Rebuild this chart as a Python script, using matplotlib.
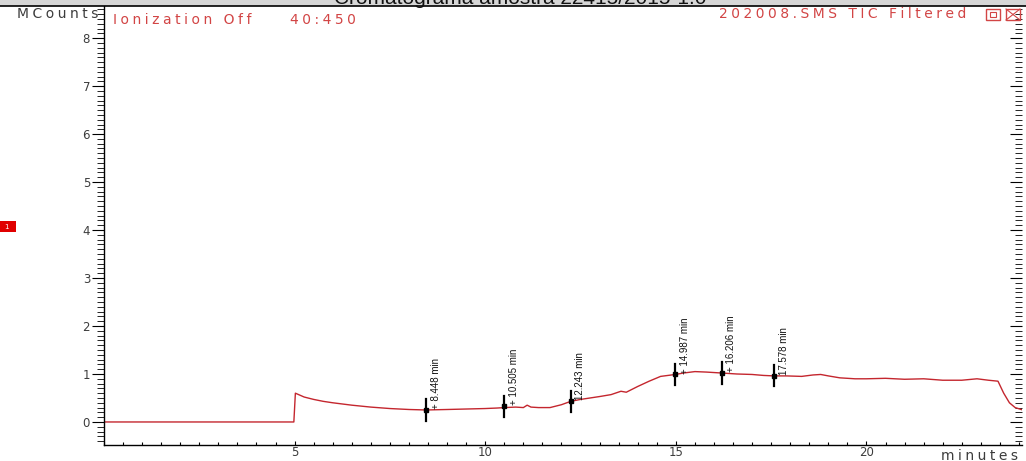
import numpy as np
import matplotlib
matplotlib.use('Agg')
from matplotlib import pyplot as plt
from matplotlib.patches import Rectangle
from matplotlib.ticker import MultipleLocator

# Chromatogram trace (minutes, MCounts)
time_min = [0.0, 4.98, 5.0, 5.02, 5.25, 5.5, 5.75, 6.0, 6.5, 7.0, 7.5, 8.0, 8.448,
            9.0, 9.5, 10.0, 10.3, 10.505, 10.8, 11.0, 11.1, 11.2, 11.4, 11.7, 12.0,
            12.243, 12.5, 13.0, 13.3, 13.56, 13.7, 14.0, 14.3, 14.6, 14.987, 15.2,
            15.5, 15.8, 16.206, 16.6, 17.0, 17.3, 17.578, 17.9, 18.3, 18.6, 18.8,
            19.0, 19.3, 19.7, 20.0, 20.5, 21.0, 21.5, 22.0, 22.5, 22.9, 23.2, 23.45,
            23.6, 23.75, 23.9, 24.1]
counts = [0.0, 0.0, 0.3, 0.6, 0.52, 0.47, 0.43, 0.40, 0.35, 0.31, 0.28, 0.26, 0.25,
          0.26, 0.27, 0.28, 0.29, 0.30, 0.31, 0.30, 0.35, 0.31, 0.30, 0.30, 0.36,
          0.43, 0.47, 0.53, 0.57, 0.64, 0.62, 0.74, 0.85, 0.95, 0.99, 1.02,
          1.05, 1.04, 1.02, 1.00, 0.99, 0.97, 0.96, 0.96, 0.95, 0.98, 0.99,
          0.96, 0.92, 0.90, 0.90, 0.91, 0.89, 0.90, 0.87, 0.87, 0.90, 0.87, 0.85,
          0.60, 0.40, 0.30, 0.25]

# Integrated peaks
peak_times = [8.448, 10.505, 12.243, 14.987, 16.206, 17.578]
peak_heights = [0.25, 0.33, 0.43, 0.99, 1.02, 0.96]
peak_labels = ['+ 8.448 min', '+ 10.505 min', '12.243 min',
               '+ 14.987 min', '+ 16.206 min', '17.578 min']

red = '#c4262e'
txt_red = '#d24545'
grey = '#3c3c3c'


def spaced(s, gap='\u2005'):
    # the instrument software draws its captions letter-spaced
    return gap.join(s)


fig = plt.figure(figsize=[10.26, 4.61], dpi=100)
fig.patch.set_facecolor('white')
ax = fig.add_axes([104 / 1026, 16 / 461, 918 / 1026, 439 / 461])

# title bar at the very top (mostly cut off)
fig.patches.append(Rectangle((0, 1 - 6 / 461), 1, 6 / 461, transform=fig.transFigure,
                             facecolor='#d6d6d6', edgecolor='none', zorder=0))
fig.text(0.507, 1 - 3.5 / 461, 'Cromatograma amostra 22415/2015-1.0', ha='center',
         va='baseline', fontsize=15, family='Liberation Sans', color='#111111')

ax.plot(time_min, counts, color=red, lw=1.0)

# peak markers and labels
for t, h, lab in zip(peak_times, peak_heights, peak_labels):
    ax.plot([t, t], [h - 0.22, h + 0.22], color='black', lw=1.6)
    ax.plot(t, h, marker='s', ms=3, color='black')
    ax.text(t + 0.12, h + 0.02, lab, rotation=90, ha='left', va='bottom',
            fontsize=7, family='Liberation Sans', color='#111111')

ax.set_xlim(0, 24.08)
ax.set_ylim(-0.48, 8.67)
ax.xaxis.set_major_locator(MultipleLocator(5))
ax.xaxis.set_minor_locator(MultipleLocator(0.5))
ax.yaxis.set_major_locator(MultipleLocator(1))
ax.yaxis.set_minor_locator(MultipleLocator(0.1))
ax.set_xticks([5, 10, 15, 20])
ax.set_yticks(range(0, 9))

ax.tick_params(axis='y', which='major', direction='out', length=9, width=0.8,
               labelsize=8.5, labelcolor=grey, right=True, pad=1)
ax.tick_params(axis='y', which='minor', direction='out', length=5, width=0.6, right=True)
ax.tick_params(axis='x', which='major', direction='in', length=3, width=0.8,
               labelsize=8.5, labelcolor=grey, pad=1)
ax.tick_params(axis='x', which='minor', direction='in', length=2, width=0.8)
for side in ['top', 'right']:
    ax.spines[side].set_visible(False)
ax.spines['left'].set_linewidth(1.0)
ax.spines['bottom'].set_linewidth(1.0)

# right-hand ticks point inward
for tk in ax.yaxis.get_major_ticks() + ax.yaxis.get_minor_ticks():
    tk.tick2line.set_marker(matplotlib.markers.TICKLEFT)

# black line under the title bar
fig.add_artist(plt.Line2D([0, 1], [1 - 6 / 461] * 2, transform=fig.transFigure,
                          color='black', lw=1.2))

fig.text(98 / 1026, 1 - 14 / 461, spaced('MCounts'), ha='right', va='center',
         fontsize=10, color=grey)
fig.text(1018 / 1026, 1 - 456 / 461, spaced('minutes'), ha='right', va='center',
         fontsize=10, color=grey)
fig.text(113 / 1026, 1 - 20 / 461, spaced('Ionization Off'), ha='left', va='center',
         fontsize=10, color=txt_red)
fig.text(290 / 1026, 1 - 20 / 461, spaced('40:450'), ha='left', va='center',
         fontsize=10, color=txt_red)
fig.text(966 / 1026, 1 - 14 / 461, spaced('202008.SMS TIC Filtered'), ha='right',
         va='center', fontsize=10, color=txt_red)

# little window buttons at top right
for x0 in [986, 1006]:
    fig.patches.append(Rectangle((x0 / 1026, 1 - 20 / 461), 14 / 1026, 11 / 461,
                                 transform=fig.transFigure, facecolor='none',
                                 edgecolor=txt_red, lw=1.0))
fig.patches.append(Rectangle((990 / 1026, 1 - 17 / 461), 6 / 1026, 5 / 461,
                             transform=fig.transFigure, facecolor='none',
                             edgecolor=txt_red, lw=0.8))
fig.add_artist(plt.Line2D([1006 / 1026, 1020 / 1026], [1 - 9 / 461, 1 - 20 / 461],
                          transform=fig.transFigure, color=txt_red, lw=0.8))
fig.add_artist(plt.Line2D([1006 / 1026, 1020 / 1026], [1 - 20 / 461, 1 - 9 / 461],
                          transform=fig.transFigure, color=txt_red, lw=0.8))

# red marker box on the left edge
fig.patches.append(Rectangle((0, 1 - 232 / 461), 16 / 1026, 11 / 461,
                             transform=fig.transFigure, facecolor='#e00000',
                             edgecolor='none'))
fig.text(4 / 1026, 1 - 227 / 461, '1', ha='left', va='center', fontsize=5,
         color='white')

fig.savefig('out.png', dpi=100)
